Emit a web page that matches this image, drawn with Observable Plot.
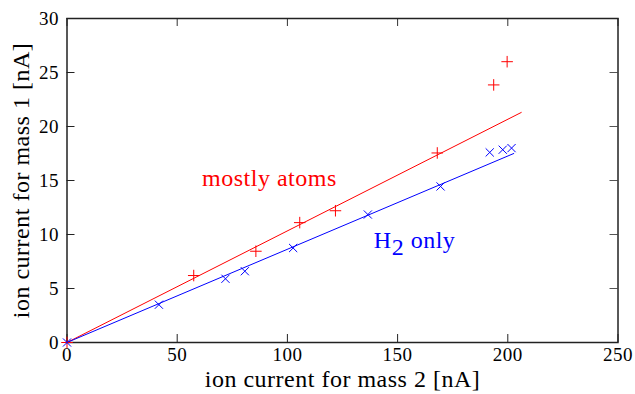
<!DOCTYPE html>
<html><head><meta charset="utf-8">
<script src="https://cdn.jsdelivr.net/npm/d3@7"></script>
<script src="https://cdn.jsdelivr.net/npm/@observablehq/plot@0.6"></script>
<style>
body{margin:0;background:#fff}
#chart svg{display:block;overflow:visible}
#chart text{letter-spacing:0.5px}
</style>
</head><body><div id="chart"></div>
<script>
// ---- data ----
const atomsX = [0, 57.5, 85.7, 105.6, 121.8, 168.0, 193.6, 199.7];
const atomsY = [0, 6.2, 8.45, 11.1, 12.2, 17.55, 23.85, 26.0];
const h2X = [0, 41.7, 71.9, 80.7, 102.6, 136.5, 169.5, 191.8, 197.7, 201.7];
const h2Y = [0, 3.5, 5.9, 6.6, 8.75, 11.85, 14.45, 17.6, 17.85, 18.0];
const atomsFitX = [0, 206.1];
const atomsFitY = [0, 21.3];
const h2FitX = [0, 202.7];
const h2FitY = [0, 17.5];
const xTicks = [0, 50, 100, 150, 200, 250];
const yTicks = [0, 5, 10, 15, 20, 25, 30];
const xTitle = "ion current for mass 2 [nA]";
const yTitle = "ion current for mass 1 [nA]";
const labelTexts = ["mostly atoms", "H2 only"];
const labelX = [61.3, 139.2];
const labelY = [15.2, 9.5];
const labelColors = ["#ff0000", "#0000ff"];

// ---- build tables ----
const atoms = atomsX.map((x, i) => ({x, y: atomsY[i]}));
const h2 = h2X.map((x, i) => ({x, y: h2Y[i]}));
const atomsFit = atomsFitX.map((x, i) => ({x, y: atomsFitY[i]}));
const h2Fit = h2FitX.map((x, i) => ({x, y: h2FitY[i]}));
const labels = labelTexts.map((t, i) => ({t, x: labelX[i], y: labelY[i], c: labelColors[i]}));

const W = 635, H = 394, mL = 66.5, mR = 17.5, mT = 18, mB = 52;
const pw = W - mL - mR, ph = H - mT - mB;
const tick = 8;
const font = '"Liberation Serif", "Times New Roman", "DejaVu Serif", serif';

const plot = Plot.plot({
  width: W, height: H,
  marginLeft: mL, marginRight: mR, marginTop: mT, marginBottom: mB,
  style: {fontFamily: font, fontSize: "19px", background: "white", color: "#000"},
  x: {domain: [0, 250]},
  y: {domain: [0, 30]},
  marks: [
    Plot.axisX({ticks: xTicks, tickSize: 0, tickPadding: 5, label: null, tickFormat: d => String(d), fontSize: 19}),
    Plot.axisY({ticks: yTicks, tickSize: 0, tickPadding: 8, label: null, tickFormat: d => String(d), fontSize: 19}),
    Plot.tickX(xTicks, {x: d => d, insetTop: ph - tick, stroke: "#222"}),
    Plot.tickX(xTicks, {x: d => d, insetBottom: ph - tick, stroke: "#333"}),
    Plot.tickY(yTicks, {y: d => d, insetRight: pw - tick, stroke: "#222"}),
    Plot.tickY(yTicks, {y: d => d, insetLeft: pw - tick, stroke: "#555"}),
    Plot.frame({stroke: "#222", strokeWidth: 1.5}),
    Plot.text([xTitle], {frameAnchor: "bottom", textAnchor: "middle", dy: 44, fontSize: 24, fill: "#000"}),
    Plot.text([yTitle], {frameAnchor: "left", textAnchor: "middle", dx: -46, rotate: -90, fontSize: 24, fill: "#000"}),
    Plot.line(atomsFit, {x: "x", y: "y", stroke: "#ff0000", strokeWidth: 1}),
    Plot.line(h2Fit, {x: "x", y: "y", stroke: "#0000ff", strokeWidth: 1}),
    Plot.dot(atoms, {x: "x", y: "y", symbol: "plus", r: 3.8, stroke: "#ff0000", strokeWidth: 1}),
    Plot.dot(h2, {x: "x", y: "y", symbol: "times", r: 3.8, stroke: "#0000ff", strokeWidth: 1}),
    Plot.text(labels, {x: "x", y: "y", text: "t", fill: "c", textAnchor: "start", fontSize: 24})
  ]
});

// subscript for H2
d3.select(plot).selectAll("text").filter(function () { return this.textContent === labelTexts[1]; })
  .each(function () {
    const t = d3.select(this);
    t.text("");
    t.append("tspan").text("H");
    t.append("tspan").attr("dy", "0.3em").text("2");
    t.append("tspan").attr("dy", "-0.3em").text(" only");
  });

document.getElementById("chart").appendChild(plot);
</script>
</body></html>
